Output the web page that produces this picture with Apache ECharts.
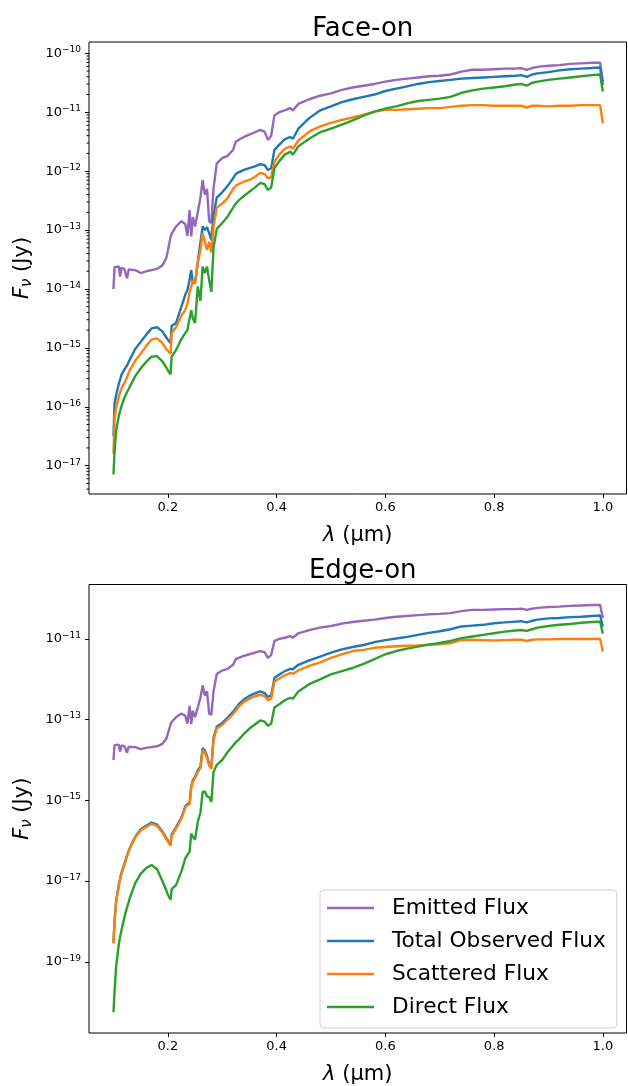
<!DOCTYPE html>
<html>
<head>
<meta charset="utf-8">
<script src="https://cdn.jsdelivr.net/npm/echarts@6/dist/echarts.min.js"></script>
<style>
html,body{margin:0;padding:0;background:#fff;}
#chart{width:628px;height:1086px;}
</style>
</head>
<body>
<div id="chart"></div>
<script>
// Wavelength grid (micron)
const wavelength = [
  0.100, 0.102, 0.105, 0.110, 0.112, 0.115, 0.120, 0.125, 0.128, 0.130,
  0.140, 0.150, 0.160, 0.170, 0.180, 0.190, 0.197, 0.200, 0.205, 0.207,
  0.215, 0.225, 0.232, 0.236, 0.240, 0.243, 0.246, 0.250, 0.255, 0.260,
  0.264, 0.268, 0.272, 0.276, 0.280, 0.284, 0.290, 0.300, 0.310, 0.320,
  0.325, 0.330, 0.340, 0.350, 0.360, 0.370, 0.378, 0.384, 0.390, 0.396,
  0.405, 0.415, 0.425, 0.430, 0.440, 0.460, 0.480, 0.500, 0.520, 0.540,
  0.560, 0.580, 0.600, 0.620, 0.640, 0.660, 0.680, 0.700, 0.720, 0.740,
  0.760, 0.780, 0.800, 0.820, 0.840, 0.850, 0.860, 0.870, 0.880, 0.900,
  0.920, 0.940, 0.960, 0.980, 0.995, 1.000
];

// Values, stored as log10 of F_nu in Jy
const emittedExp = [
  -14.00, -13.63, -13.65, -13.62, -13.79, -13.64, -13.66, -13.82, -13.67, -13.66,
  -13.68, -13.73, -13.70, -13.68, -13.66, -13.60, -13.48, -13.35, -13.12, -13.06,
  -12.94, -12.85, -12.90, -13.10, -12.66, -13.11, -12.78, -12.94, -12.70, -12.45,
  -12.15, -12.40, -12.30, -12.85, -12.88, -12.30, -11.87, -11.78, -11.74, -11.64,
  -11.50, -11.47, -11.42, -11.38, -11.34, -11.30, -11.33, -11.47, -11.40, -11.05,
  -11.00, -10.97, -10.93, -10.97, -10.86, -10.78, -10.72, -10.68, -10.62, -10.58,
  -10.55, -10.52, -10.48, -10.45, -10.43, -10.41, -10.39, -10.38, -10.36, -10.31,
  -10.28, -10.28, -10.27, -10.26, -10.26, -10.25, -10.28, -10.25, -10.23, -10.21,
  -10.20, -10.18, -10.17, -10.16, -10.16, -10.48
];

const faceTotalExp = [
  -16.50, -15.94, -15.80, -15.60, -15.55, -15.45, -15.37, -15.30, -15.24, -15.20,
  -15.02, -14.90, -14.78, -14.67, -14.65, -14.72, -14.82, -14.86, -14.92, -14.63,
  -14.58, -14.30, -14.10, -14.02, -13.85, -13.68, -13.90, -13.90, -13.55, -13.20,
  -12.94, -13.00, -12.95, -13.05, -13.17, -12.75, -12.45, -12.36, -12.25, -12.12,
  -12.05, -12.02, -11.98, -11.95, -11.92, -11.88, -11.90, -11.98, -11.95, -11.64,
  -11.55, -11.46, -11.42, -11.45, -11.28, -11.10, -10.97, -10.90, -10.83, -10.78,
  -10.74, -10.70, -10.64, -10.60, -10.56, -10.52, -10.49, -10.47, -10.45, -10.43,
  -10.42, -10.41, -10.40, -10.39, -10.38, -10.37, -10.40, -10.36, -10.34, -10.32,
  -10.29, -10.27, -10.26, -10.25, -10.24, -10.54
];

const faceScatteredExp = [
  -16.80, -16.20, -16.00, -15.82, -15.76, -15.68, -15.60, -15.50, -15.42, -15.38,
  -15.22, -15.10, -14.97, -14.86, -14.84, -14.92, -15.02, -15.05, -15.10, -14.75,
  -14.65, -14.45, -14.36, -14.25, -14.05, -13.96, -13.85, -13.90, -13.56, -13.34,
  -13.05, -13.20, -13.34, -13.20, -13.38, -12.95, -12.62, -12.55, -12.46, -12.30,
  -12.25, -12.22, -12.18, -12.15, -12.10, -12.03, -12.05, -12.12, -12.10, -11.84,
  -11.72, -11.62, -11.58, -11.62, -11.48, -11.33, -11.24, -11.18, -11.13, -11.09,
  -11.04, -10.99, -10.96, -10.96, -10.95, -10.94, -10.93, -10.93, -10.91, -10.89,
  -10.88, -10.88, -10.89, -10.89, -10.89, -10.89, -10.92, -10.89, -10.89, -10.90,
  -10.89, -10.89, -10.88, -10.88, -10.88, -11.19
];

const faceDirectExp = [
  -17.15, -16.76, -16.40, -16.15, -16.08, -15.98, -15.85, -15.75, -15.70, -15.66,
  -15.48, -15.35, -15.24, -15.15, -15.14, -15.23, -15.33, -15.38, -15.45, -15.15,
  -15.04, -14.85, -14.75, -14.70, -14.50, -14.36, -14.50, -14.58, -13.96, -14.20,
  -13.62, -13.73, -13.62, -13.85, -14.05, -13.30, -12.98, -12.88, -12.77, -12.62,
  -12.55, -12.50, -12.42, -12.35, -12.28, -12.20, -12.22, -12.32, -12.28, -11.95,
  -11.83, -11.72, -11.67, -11.72, -11.58, -11.45, -11.34, -11.28, -11.21, -11.14,
  -11.06, -10.99, -10.94, -10.90, -10.85, -10.81, -10.79, -10.77, -10.74, -10.67,
  -10.63, -10.60, -10.58, -10.56, -10.53, -10.52, -10.55, -10.50, -10.48, -10.45,
  -10.43, -10.41, -10.39, -10.37, -10.36, -10.65
];

const edgeTotalExp = [
  -18.53, -17.98, -17.48, -17.08, -16.95, -16.78, -16.58, -16.36, -16.25, -16.18,
  -15.90, -15.72, -15.63, -15.55, -15.60, -15.77, -15.93, -15.99, -16.09, -15.85,
  -15.67, -15.42, -15.15, -15.09, -15.07, -14.66, -14.50, -14.42, -14.26, -14.16,
  -13.70, -13.77, -13.90, -14.10, -14.18, -13.45, -13.17, -13.08, -12.95, -12.80,
  -12.72, -12.62, -12.50, -12.41, -12.35, -12.30, -12.34, -12.44, -12.40, -11.97,
  -11.88, -11.80, -11.74, -11.75, -11.64, -11.53, -11.44, -11.34, -11.26, -11.20,
  -11.15, -11.08, -11.03, -10.99, -10.95, -10.90, -10.85, -10.81, -10.76, -10.69,
  -10.67, -10.65, -10.61, -10.59, -10.57, -10.56, -10.59, -10.55, -10.52, -10.49,
  -10.48, -10.46, -10.45, -10.43, -10.42, -10.69
];

const edgeScatteredExp = [
  -18.55, -18.00, -17.50, -17.10, -16.97, -16.80, -16.60, -16.38, -16.27, -16.20,
  -15.92, -15.75, -15.66, -15.58, -15.63, -15.80, -15.96, -16.02, -16.12, -15.88,
  -15.70, -15.45, -15.18, -15.12, -15.10, -14.70, -14.54, -14.45, -14.30, -14.20,
  -13.75, -13.82, -13.95, -14.14, -14.22, -13.50, -13.22, -13.13, -13.00, -12.86,
  -12.78, -12.68, -12.56, -12.48, -12.42, -12.38, -12.42, -12.52, -12.48, -12.06,
  -11.98, -11.90, -11.85, -11.86, -11.78, -11.67, -11.58, -11.47, -11.38, -11.30,
  -11.27, -11.22, -11.20, -11.18, -11.17, -11.16, -11.14, -11.13, -11.10, -11.03,
  -11.02, -11.03, -11.04, -11.03, -11.02, -11.02, -11.05, -11.02, -11.01, -11.01,
  -11.00, -11.00, -11.00, -11.00, -11.00, -11.31
];

const edgeDirectExp = [
  -20.25, -19.72, -19.10, -18.55, -18.40, -18.20, -17.90, -17.65, -17.52, -17.42,
  -17.05, -16.82, -16.68, -16.60, -16.70, -17.00, -17.22, -17.34, -17.46, -17.20,
  -17.10, -16.76, -16.44, -16.35, -16.27, -15.82, -15.90, -15.98, -15.53, -15.30,
  -14.79, -14.78, -14.90, -14.92, -15.04, -14.30, -14.12, -14.00, -13.80, -13.64,
  -13.56, -13.50, -13.35, -13.22, -13.12, -13.02, -13.05, -13.15, -13.10, -12.70,
  -12.62, -12.52, -12.46, -12.48, -12.30, -12.12, -12.00, -11.88, -11.80, -11.72,
  -11.62, -11.50, -11.38, -11.30, -11.24, -11.19, -11.14, -11.10, -11.05, -10.98,
  -10.94, -10.90, -10.86, -10.82, -10.79, -10.78, -10.80, -10.76, -10.72, -10.68,
  -10.65, -10.63, -10.60, -10.58, -10.57, -10.87
];

const seriesNames = ['Emitted Flux', 'Total Observed Flux', 'Scattered Flux', 'Direct Flux'];
const seriesColors = ['#9467bd', '#1f77b4', '#ff7f0e', '#2ca02c'];
const panelTitles = ['Face-on', 'Edge-on'];
const xTicks = [0.2, 0.4, 0.6, 0.8, 1.0];
const topYTicks = [1e-17, 1e-16, 1e-15, 1e-14, 1e-13, 1e-12, 1e-11, 1e-10];
const bottomYTicks = [1e-19, 1e-17, 1e-15, 1e-13, 1e-11];

const FONT = 'DejaVu Sans';

function toPairs(exps) {
  return wavelength.map((w, i) => [w, Math.pow(10, exps[i])]);
}

const GRID_W = 537.5;
const grids = [
  { left: 89, top: 42, width: GRID_W, height: 452 },
  { left: 89, top: 584.5, width: GRID_W, height: 451.5 }
];
const yRanges = [
  [Math.pow(10, -17.481), Math.pow(10, -9.808)],
  [Math.pow(10, -20.765), Math.pow(10, -9.651)]
];
const yTickSets = [topYTicks, bottomYTicks];

// minor ticks (2..9 x 10^n) for the top panel's log axis, kept inside the axis range
const topMinorTicks = [];
[1e-18].concat(topYTicks).forEach(d => {
  for (let k = 2; k <= 9; k++) {
    const v = +(k * d).toPrecision(3);
    if (v > yRanges[0][0] && v < yRanges[0][1]) topMinorTicks.push(v);
  }
});

function supLabel(v) {
  const e = Math.round(Math.log10(v));
  return '{b|10}{e|\u2212' + Math.abs(e) + '}';
}

const xAxes = [];
const yAxes = [];
const series = [];
const titles = [];

[0, 1].forEach(g => {
  xAxes.push({
    type: 'value', gridIndex: g, min: 0.055, max: 1.0435,
    axisLine: { show: false },
    splitLine: { show: false },
    axisTick: { show: true, length: 4, lineStyle: { color: '#000', width: 1 }, customValues: xTicks },
    axisLabel: { show: true, margin: 7, fontSize: 13, fontFamily: FONT, color: '#000', customValues: xTicks,
      formatter: v => v.toFixed(1) },
    name: '{i|\u03bb} (\u03bcm)', nameLocation: 'middle', nameGap: 31,
    nameTextStyle: { fontSize: 21, fontFamily: FONT, color: '#000',
      rich: { i: { fontSize: 21, fontFamily: FONT, fontStyle: 'italic', color: '#000' } } }
  });
  yAxes.push({
    type: 'log', logBase: 10, gridIndex: g, position: 'left', min: yRanges[g][0], max: yRanges[g][1],
    axisLine: { show: false },
    splitLine: { show: false },
    minorTick: { show: false },
    axisTick: { show: true, length: 4, lineStyle: { color: '#000', width: 1 }, customValues: yTickSets[g] },
    axisLabel: { show: true, margin: 8, customValues: yTickSets[g], formatter: supLabel,
      rich: {
        b: { fontSize: 13, fontFamily: FONT, color: '#000' },
        e: { fontSize: 9, fontFamily: FONT, color: '#000', padding: [0, 0, 7, 0] }
      } },
    name: '{i|F}{s|\u03bd}{n| (Jy)}', nameLocation: 'middle', nameGap: 54, nameRotate: 90,
    nameTextStyle: { color: '#000',
      rich: {
        i: { fontSize: 21, fontFamily: FONT, fontStyle: 'italic', color: '#000' },
        s: { fontSize: 15, fontFamily: FONT, fontStyle: 'italic', color: '#000', padding: [10, 0, 0, 0] },
        n: { fontSize: 21, fontFamily: FONT, color: '#000' }
      } }
  });
  titles.push({
    text: panelTitles[g], left: 357.75, textAlign: 'center', top: g === 0 ? 11 : 553,
    textStyle: { fontSize: 26, fontFamily: FONT, fontWeight: 'normal', color: '#000' }
  });
});

const faceSets = [emittedExp, faceTotalExp, faceScatteredExp, faceDirectExp];
const edgeSets = [emittedExp, edgeTotalExp, edgeScatteredExp, edgeDirectExp];

[faceSets, edgeSets].forEach((sets, g) => {
  sets.forEach((exps, i) => {
    series.push({
      name: seriesNames[i], type: 'line', xAxisIndex: g, yAxisIndex: g,
      data: toPairs(exps), symbol: 'none', showSymbol: false,
      lineStyle: { width: 2.4, color: seriesColors[i] },
      itemStyle: { color: seriesColors[i] },
      emphasis: { disabled: true }, animation: false
    });
  });
});

const chart = echarts.init(document.getElementById('chart'), null, { renderer: 'canvas' });
chart.setOption({
  backgroundColor: '#fff',
  animation: false,
  title: titles,
  grid: grids.map(g => Object.assign({ show: true, borderColor: '#000', borderWidth: 1, backgroundColor: 'transparent' }, g)),
  xAxis: xAxes,
  yAxis: yAxes,
  legend: {
    data: seriesNames, orient: 'vertical', left: 320, top: 890,
    icon: 'rect',
    itemWidth: 47, itemHeight: 2.5, itemGap: 11,
    padding: [7, 11, 10, 7],
    borderColor: '#d0d0d0', borderWidth: 1, borderRadius: 4,
    backgroundColor: 'rgba(255,255,255,0.8)',
    selectedMode: false,
    textStyle: { fontSize: 21.7, fontFamily: FONT, color: '#000', padding: [0, 0, 0, 13] }
  },
  series: series
});

// Minor log ticks of the top panel, placed through the axis' own scale
const minorTickEls = topMinorTicks.map(v => {
  const p = chart.convertToPixel({ xAxisIndex: 0, yAxisIndex: 0 }, [0.055, v]);
  return {
    type: 'line', silent: true, z: 10,
    shape: { x1: p[0] - 2.5, y1: p[1], x2: p[0], y2: p[1] },
    style: { stroke: '#000', lineWidth: 1 }
  };
});
chart.setOption({ graphic: minorTickEls });
</script>
</body>
</html>
